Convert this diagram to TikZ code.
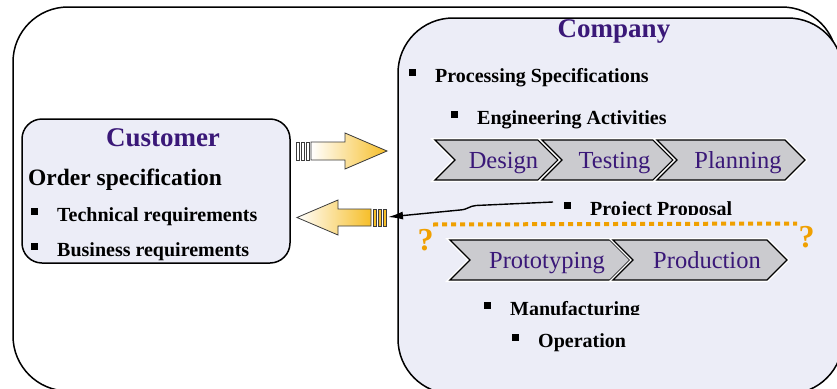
\documentclass[tikz,border=0pt]{standalone}
\usepackage{fontspec}
\setmainfont{Liberation Serif}
\usetikzlibrary{arrows.meta}

\definecolor{titlepurple}{RGB}{58,24,120}
\definecolor{panelfill}{RGB}{236,237,247}
\definecolor{chevfill}{RGB}{203,203,207}
\definecolor{arrowgold}{RGB}{246,190,40}
\definecolor{qorange}{RGB}{240,160,0}
\definecolor{edgegray}{RGB}{60,60,60}

\tikzset{
  outerframe/.style={draw=black, line width=1.5pt, fill=white},
  panel/.style={draw=black, line width=1.5pt, fill=panelfill},
  title/.style={font=\fontsize{27}{30}\selectfont\bfseries, text=titlepurple, inner sep=0pt, anchor=base},
  item/.style={font=\fontsize{20}{22}\selectfont\bfseries, inner sep=0pt, anchor=base west},
  bigitem/.style={font=\fontsize{23.5}{26}\selectfont\bfseries, inner sep=0pt, anchor=base west},
  chevshape/.style={draw=black, line width=1.3pt, fill=chevfill,
    preaction={draw=white, line width=4pt}},
  chevtext/.style={font=\fontsize{24.5}{27}\selectfont, text=titlepurple, inner sep=0pt, anchor=base},
  goldarrow/.style={draw=edgegray, line width=0.8pt, left color=white, right color=arrowgold},
  tailbar/.style={draw=edgegray, line width=0.8pt},
  qmark/.style={font=\fontsize{32}{34}\selectfont\bfseries, text=qorange, inner sep=0pt, anchor=base},
  dotline/.style={draw=qorange, line width=4pt, dash pattern=on 5pt off 4pt},
  link/.style={draw=black, line width=1.4pt, -{Latex[length=15pt,width=8pt]}},
}

% square bullet placed left of an item's baseline
\newcommand\sqbullet[1]{\fill ([shift={(-26,-13.5)}]#1.base west) rectangle ++(7,7);}

% one chevron step: left x, right x, top y, bottom y, name, label
\newcommand\chevbox[6]{%
  \draw[chevshape] (#1,#3) -- (#2,#3) -- ({#2+20},{(#3+#4)/2}) -- (#2,#4)
    -- (#1,#4) -- ({#1+20},{(#3+#4)/2}) -- cycle;
  \node[chevtext] (#5) at ({(#1+#2)/2+17},{(#3+#4)/2+8}) {#6};
}

\begin{document}
\begin{tikzpicture}[x=1pt, y=-1pt]
  \useasboundingbox (0,0) rectangle (837,388);

  % frames
  \draw[outerframe, rounded corners=55pt] (13,7) rectangle (837,391);
  \draw[panel, rounded corners=55pt] (398,18) rectangle (843,394);
  \draw[panel, rounded corners=20pt] (22,119) rectangle (290,263);

  % customer side
  \node[title] (customer) at (163,146) {Customer};
  \node[bigitem] (order) at (28,185) {Order specification};
  \node[item] (tech) at (57,221) {Technical requirements};
  \sqbullet{tech}
  \node[item] (business) at (57,256) {Business requirements};
  \sqbullet{business}

  % company side
  \node[title] (company) at (614,37) {Company};
  \node[item] (processing) at (435,82) {Processing Specifications};
  \sqbullet{processing}
  \node[item] (engineering) at (477,124) {Engineering Activities};
  \sqbullet{engineering}

  \chevbox{435}{538}{140}{180}{design}{Design}
  \chevbox{542}{653}{140}{180}{testing}{Testing}
  \chevbox{657}{785}{140}{180}{planning}{Planning}

  \begin{scope}
    \clip (500,190) rectangle (800,214);
    \node[item] (proposal) at (590,215.5) {Project Proposal};
  \end{scope}
  \sqbullet{proposal}

  % open question band
  \node[qmark] (qleft) at (425.5,250) {?};
  \node[qmark] (qright) at (806.5,247) {?};
  \coordinate (bandL) at (433,224.5);
  \coordinate (bandR) at (797,223.5);
  \draw[dotline] (bandL) -- (bandR);

  \chevbox{450}{610}{240}{280}{prototyping}{Prototyping}
  \chevbox{613}{767}{240}{280}{production}{Production}

  \begin{scope}
    \clip (450,290) rectangle (760,314);
    \node[item] (manufacturing) at (510,315.5) {Manufacturing};
  \end{scope}
  \sqbullet{manufacturing}
  \node[item] (operation) at (538,347) {Operation};
  \sqbullet{operation}

  % request arrow: customer to company
  \draw[tailbar, fill=white] (296,142) rectangle (299.5,160);
  \draw[tailbar, fill=white] (301,142) rectangle (304.5,160);
  \draw[tailbar, fill=white] (306,142) rectangle (309.5,160);
  \draw[goldarrow] (311,142) -- (345,142) -- (345,133) -- (387,151)
    -- (345,169) -- (345,160) -- (311,160) -- cycle;
  \coordinate (reqtip) at (387,151);

  % answer arrow: company to customer
  \draw[goldarrow] (297,217.5) -- (338,200) -- (338,209) -- (371,209)
    -- (371,226) -- (338,226) -- (338,235) -- cycle;
  \draw[tailbar, fill=arrowgold] (373,209) rectangle (376.5,226);
  \draw[tailbar, fill=arrowgold] (378,209) rectangle (381.5,226);
  \draw[tailbar, fill=arrowgold] (383,209) rectangle (386.5,226);
  \coordinate (anstail) at (388,217);

  % link from the proposal to the answer arrow
  \coordinate (propfrom) at (553,202);
  \draw[link] (propfrom) -- (476,205.5) .. controls (469,206) and (468,209.5) .. (460,210)
    -- (anstail);
\end{tikzpicture}
\end{document}
